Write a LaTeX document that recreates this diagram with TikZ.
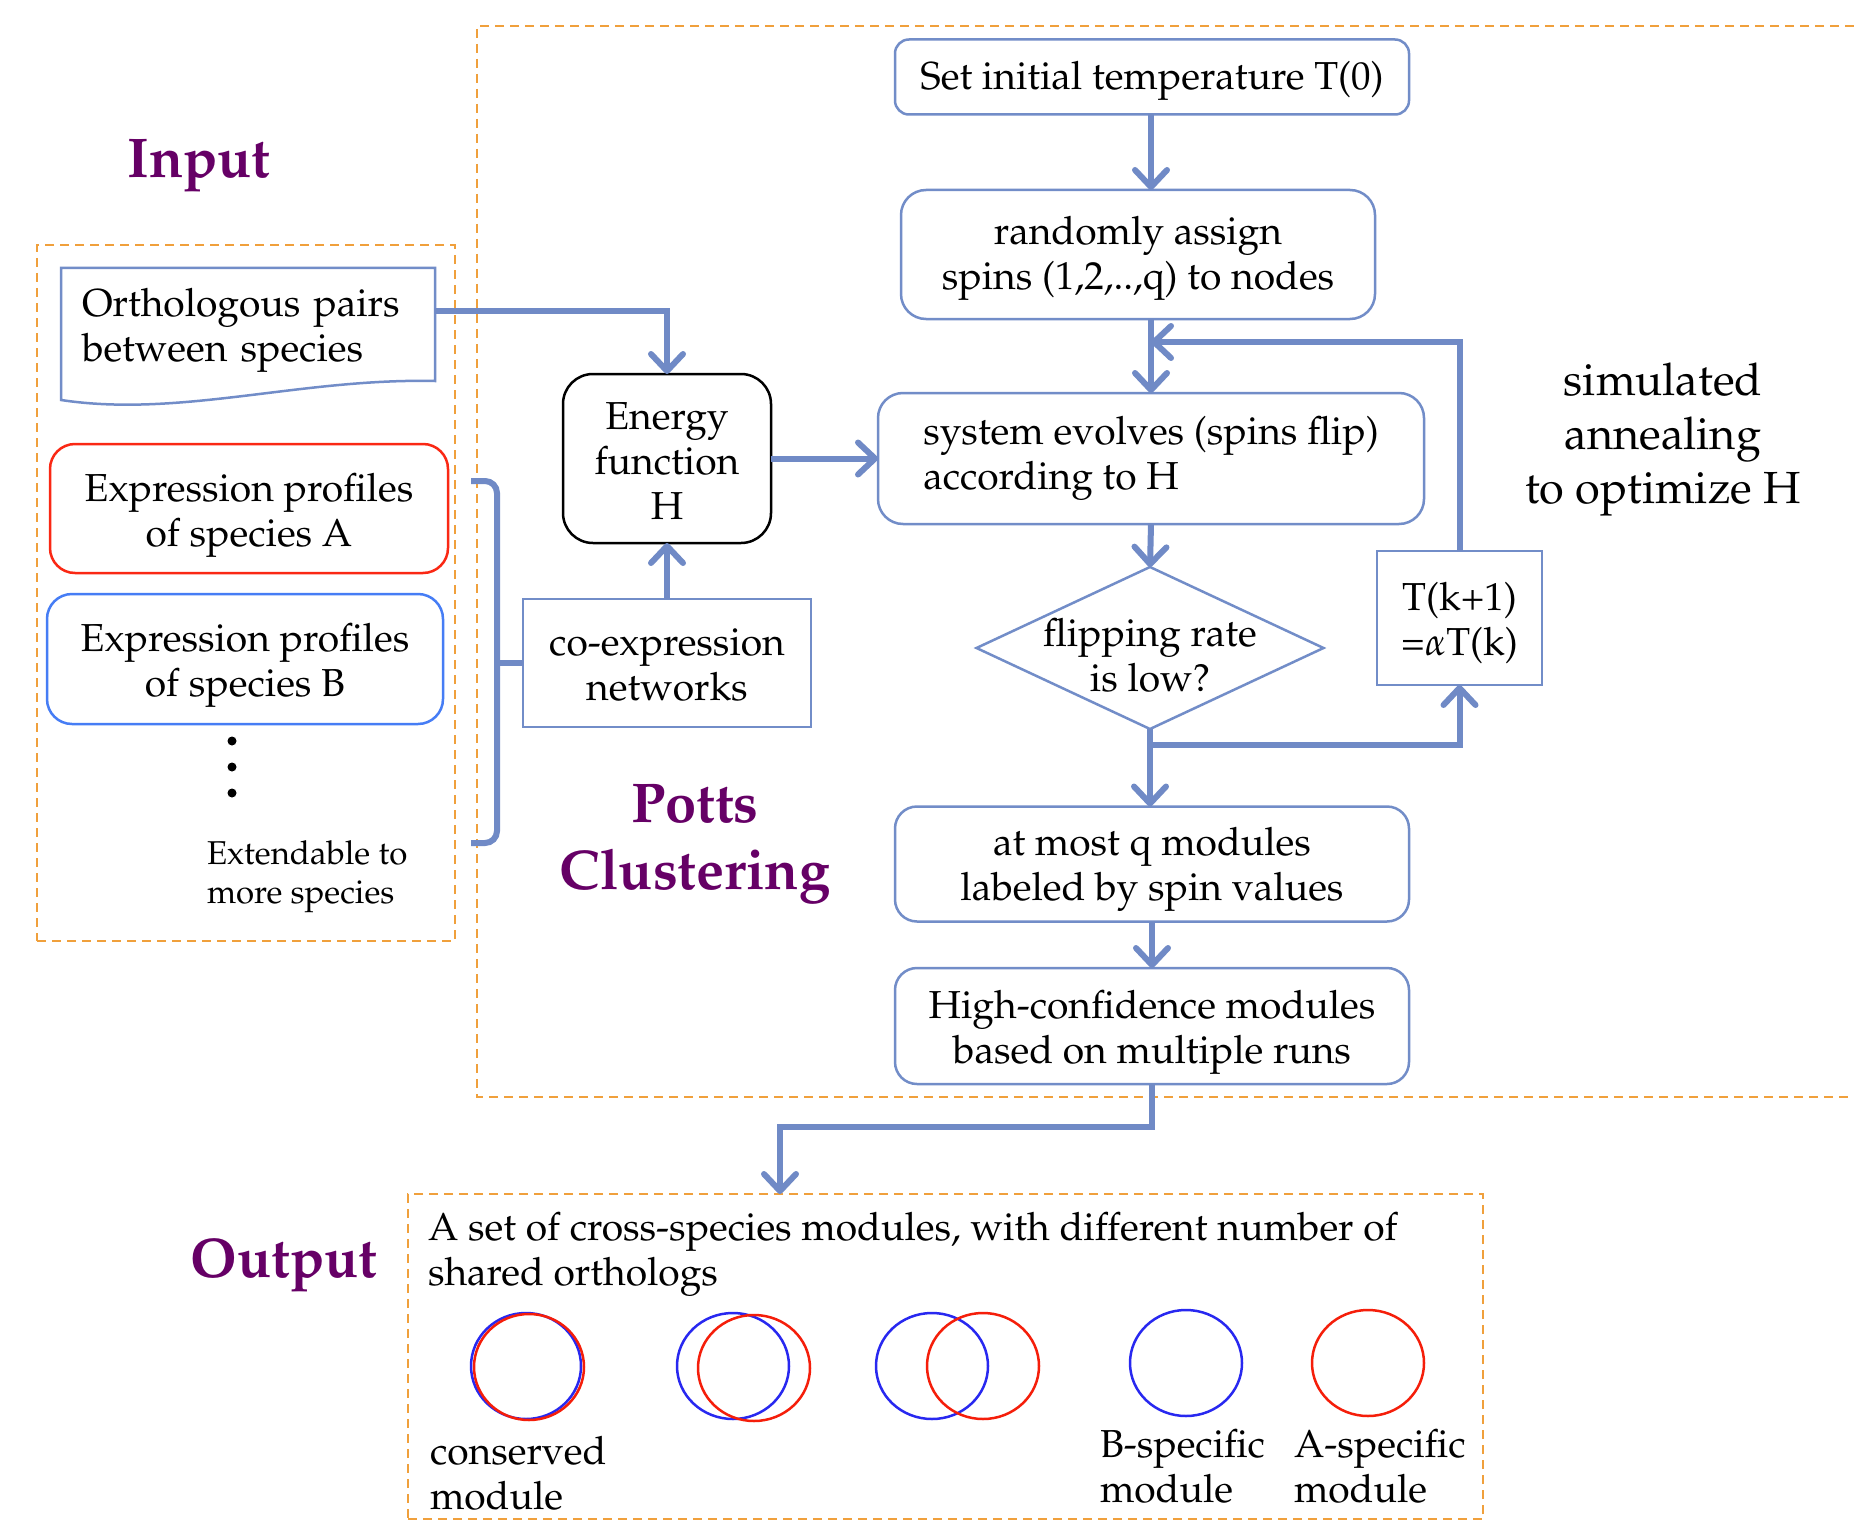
\documentclass[tikz,border=0pt]{standalone}
\usepackage[T1]{fontenc}
\usepackage{mathpazo}
\usetikzlibrary{arrows.meta,calc}
\definecolor{linkblue}{RGB}{112,138,198}
\definecolor{boxblue}{RGB}{114,141,200}
\definecolor{boxred}{RGB}{250,40,20}
\definecolor{boxbblue}{RGB}{70,125,245}
\definecolor{dashorange}{RGB}{240,160,60}
\definecolor{titlepurple}{RGB}{102,0,102}
\definecolor{ellblue}{RGB}{40,40,240}
\definecolor{ellred}{RGB}{245,30,10}
\newcommand\bodyfont{\fontsize{39}{45}\selectfont}
\newcommand\titlefont{\fontsize{56}{67}\selectfont\bfseries}
\newcommand\smallfont{\fontsize{33}{39}\selectfont}
\newcommand\safont{\fontsize{45}{54}\selectfont}
\newcommand\lowr[1]{\rule{0pt}{#1pt}}
\begin{document}
\begin{tikzpicture}[x=1pt,y=-1pt,
  every node/.style={inner sep=0pt, outer sep=0pt},
  box/.style={draw=boxblue, line width=2.5pt, font=\bodyfont, align=center},
  rbox/.style={box, rounded corners=14pt},
  flow/.style={draw=linkblue, line width=6pt, -{Straight Barb[length=17pt,width=32pt,round]}},
  link/.style={draw=linkblue, line width=6pt},
  dashbox/.style={draw=dashorange, line width=2.5pt, dash pattern=on 9pt off 6pt},
  title/.style={font=\titlefont, text=titlepurple, align=center},
  ell/.style={line width=2.5pt},
  lbl/.style={font=\bodyfont, align=left, anchor=west}
]
\useasboundingbox (0,0) rectangle (1854,1522);
\fill[white] (0,0) rectangle (1854,1522);

% dashed frames
\draw[dashbox] (1854,26) -- (477,26) -- (477,1097) -- (1854,1097);
\node[dashbox, minimum width=418pt, minimum height=696pt] (inbox) at (246,593) {};
\node[dashbox, minimum width=1075pt, minimum height=325pt] (outbox) at (945.5,1356.5) {};

% titles
\node[title] (input) at (199,166) {Input};
\node[title] (potts) at (695,844) {Potts\\Clustering};
\node[title] (output) at (284,1265) {Output};

% main column
\node[rbox, minimum width=514pt, minimum height=75pt] (T0) at (1152,77) {\lowr{37}Set initial temperature T(0)};
\node[rbox, rounded corners=25pt, minimum width=474pt, minimum height=129pt] (rand) at (1138,254.5) {\lowr{35}randomly assign\\spins (1,2,..,q) to nodes};
\node[rbox, rounded corners=25pt, minimum width=546pt, minimum height=131pt, align=left] (sys) at (1151,458.5) {system evolves (spins flip)\\according to H};
\node[minimum width=347pt, minimum height=162pt, font=\bodyfont, align=center] (dec) at (1150,648) {\lowr{42}flipping rate\\is low?};
\draw[boxblue, line width=2.5pt] (dec.north) -- (dec.east) -- (dec.south) -- (dec.west) -- cycle;
\node[box, minimum width=165pt, minimum height=134pt] (Tk) at (1459.5,618) {\lowr{38}T(k+1)\\=$\alpha$T(k)};
\node[rbox, rounded corners=22pt, minimum width=514pt, minimum height=115pt] (atmost) at (1152,864) {\lowr{38}at most q modules\\labeled by spin values};
\node[rbox, rounded corners=22pt, minimum width=514pt, minimum height=116pt] (high) at (1152,1026) {\lowr{40}High-confidence modules\\based on multiple runs};
\node[font=\safont, align=center] (sa) at (1663,440) {simulated\\annealing\\to optimize H};

% input column
\node[font=\bodyfont, align=left, text width=332pt, inner xsep=21pt, minimum height=113pt] (orth) at (248,324.5) {\lowr{40}Orthologous pairs\\between species};
\draw[boxblue, line width=2.5pt] (orth.north west) -- (orth.north east) -- (orth.south east)
  .. controls ($(orth.south east)+(-135,-3)$) and ($(orth.south west)+(119,37)$) .. ($(orth.south west)+(0,19)$) -- cycle;
\node[draw=boxred, line width=2.5pt, rounded corners=25pt, minimum width=398pt, minimum height=129pt, font=\bodyfont, align=center] (expA) at (249,508.5) {\lowr{41}Expression profiles\\of species A};
\node[draw=boxbblue, line width=2.5pt, rounded corners=25pt, minimum width=396pt, minimum height=130pt, font=\bodyfont, align=center] (expB) at (245,659) {\lowr{41}Expression profiles\\of species B};
\fill (232,741) circle (4.5);
\fill (232,767) circle (4.5);
\fill (232,793) circle (4.5);
\node[font=\smallfont, align=left, anchor=west] (ext) at (207,872) {\lowr{34}Extendable to\\more species};

% middle
\node[draw=black, line width=2.5pt, rounded corners=30pt, minimum width=208pt, minimum height=169pt, font=\bodyfont, align=center] (energy) at (667,458.5) {\lowr{33}Energy\\function\\H};
\node[box, minimum width=288pt, minimum height=128pt] (coexp) at (667,663) {\lowr{31}co-expression\\networks};

% output contents
\node[lbl] (outtext) at (428,1248) {\lowr{40}A set of cross-species modules, with different number of\\shared orthologs};
\draw[ellblue, ell] (526,1366) ellipse [x radius=55, y radius=53];
\draw[ellred, ell] (529,1367) ellipse [x radius=55, y radius=53];
\draw[ellblue, ell] (733,1366) ellipse [x radius=56, y radius=53];
\draw[ellred, ell] (754,1368) ellipse [x radius=56, y radius=53];
\draw[ellblue, ell] (932,1366) ellipse [x radius=56, y radius=53];
\draw[ellred, ell] (983,1366) ellipse [x radius=56, y radius=53];
\draw[ellblue, ell] (1186,1363) ellipse [x radius=56, y radius=53];
\draw[ellred, ell] (1368,1363) ellipse [x radius=56, y radius=53];
\node[lbl] (lcons) at (430,1473) {conserved\\module};
\node[lbl] (lbspec) at (1100,1466) {B-specific\\module};
\node[lbl] (laspec) at (1294,1466) {A-specific\\module};

% connectors
\draw[flow] (T0.south -| sys.north) -- (rand.north -| sys.north);
\draw[flow] (rand.south -| sys.north) -- (sys.north);
\coordinate (merge) at ($(sys.north)+(0,-51)$);
\draw[flow] (Tk.north) |- (merge);
\draw[flow] (sys.south) -- (dec.north);
\draw[flow] (dec.south) -- (dec.south |- atmost.north);
\coordinate (split) at ($(dec.south)+(0,16)$);
\draw[flow] (split) -| (Tk.south);
\draw[flow] (atmost.south) -- (high.north);
\coordinate (oc) at (780,1127);
\draw[flow] (high.south) |- (oc) -- (oc |- outbox.north);
\draw[flow] ($(orth.north east)+(0,43)$) -| (energy.north);
\draw[flow] (coexp.north) -- (energy.south);
\draw[flow] (energy.east) -- (sys.west);
\coordinate (bt) at (471,481);
\coordinate (bb) at (471,843);
\draw[link, rounded corners=12pt] (bt) -- (497,481) -- (497,843) -- (bb);
\draw[link] ($(coexp.west)+(-26,0)$) -- (coexp.west);
\end{tikzpicture}
\end{document}
